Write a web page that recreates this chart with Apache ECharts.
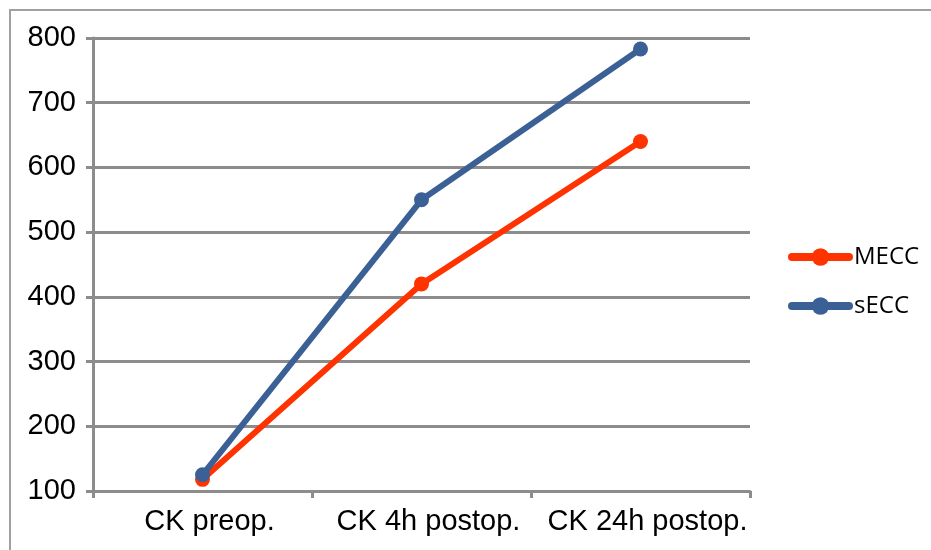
<!DOCTYPE html>
<html><head><meta charset="utf-8">
<script src="https://cdn.jsdelivr.net/npm/echarts@6/dist/echarts.min.js"></script>
<style>html,body{margin:0;padding:0;background:#fff}#c{width:931px;height:550px}</style>
</head><body><div id="c"></div>
<script>
const categories = ['CK preop.', 'CK 4h postop.', 'CK 24h postop.'];
const mecc = [118, 420, 640];
const secc = [125, 550, 783];
const yTicks = [100, 200, 300, 400, 500, 600, 700, 800];

const chart = echarts.init(document.getElementById('c'));
const gridColor = '#8c8c8c';
chart.setOption({
  animation: false,
  graphic: [{
    type: 'rect', shape: { x: 10, y: 10, width: 1000, height: 1000 },
    style: { fill: 'none', stroke: '#a0a0a0', lineWidth: 2 }, z: -1
  }],
  grid: { left: 93, right: 181, top: 38, bottom: 59 },
  xAxis: {
    type: 'category', data: categories, boundaryGap: true,
    axisLine: { lineStyle: { color: gridColor, width: 3 } },
    axisTick: { show: true, interval: 0, length: 7, lineStyle: { color: gridColor, width: 3 } },
    axisLabel: { interval: 0, hideOverlap: false, color: '#000', fontFamily: 'Liberation Sans', fontSize: 29, margin: 16, padding: [0, 0, 0, 14] }
  },
  yAxis: {
    type: 'value', min: yTicks[0], max: yTicks[yTicks.length - 1], interval: 100,
    axisLine: { show: true, lineStyle: { color: gridColor, width: 3 } },
    axisTick: { show: true, length: 7, lineStyle: { color: gridColor, width: 3 } },
    splitLine: { lineStyle: { color: gridColor, width: 3 } },
    axisLabel: { color: '#000', fontFamily: 'Liberation Sans', fontSize: 29, margin: 17, padding: [8, 0, 0, 0] }
  },
  legend: {
    orient: 'vertical', left: 788, top: 245, itemGap: 25, padding: 0,
    itemWidth: 57, itemHeight: 22,
    lineStyle: { width: 8, cap: 'round' },
    textStyle: { fontFamily: 'Open Sans', fontSize: 24, lineHeight: 24, color: '#000' },
    data: ['MECC', 'sECC']
  },
  series: [
    { name: 'MECC', type: 'line', data: mecc, symbol: 'circle', symbolSize: 15,
      itemStyle: { color: '#ff3300' }, lineStyle: { color: '#ff3300', width: 6 } },
    { name: 'sECC', type: 'line', data: secc, symbol: 'circle', symbolSize: 15,
      itemStyle: { color: '#3a6096' }, lineStyle: { color: '#3a6096', width: 6 } }
  ]
});
</script></body></html>
